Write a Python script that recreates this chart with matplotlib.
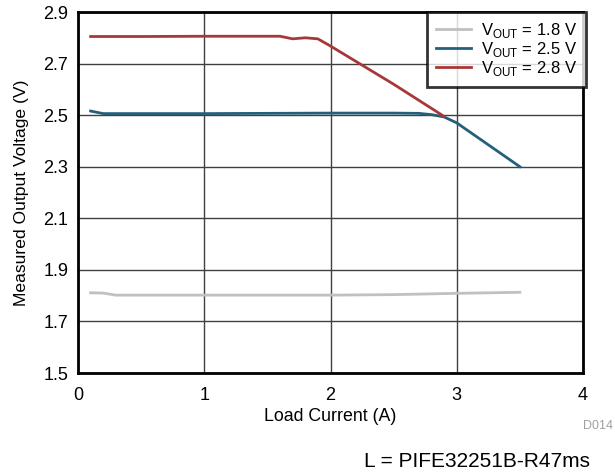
import matplotlib
matplotlib.use("Agg")
import matplotlib.pyplot as plt

plt.rcParams['font.family'] = ['Liberation Sans', 'DejaVu Sans']
plt.rcParams['mathtext.fontset'] = 'custom'
plt.rcParams['mathtext.rm'] = 'Liberation Sans'

# Load current (A) and measured output voltage (V)
i_18 = [0.1, 0.2, 0.3, 0.5, 1.0, 1.5, 2.0, 2.5, 3.0, 3.5]
v_18 = [1.811, 1.810, 1.802, 1.802, 1.802, 1.802, 1.802, 1.804, 1.809, 1.813]

i_25 = [0.1, 0.2, 0.5, 1.0, 1.5, 2.0, 2.5, 2.7, 2.8, 2.9, 3.0, 3.5]
v_25 = [2.516, 2.506, 2.506, 2.506, 2.507, 2.508, 2.508, 2.507, 2.502, 2.493, 2.47, 2.30]

i_28 = [0.1, 0.5, 1.0, 1.5, 1.6, 1.7, 1.8, 1.9, 2.0, 2.5, 2.9]
v_28 = [2.805, 2.805, 2.806, 2.806, 2.806, 2.796, 2.800, 2.796, 2.768, 2.62, 2.495]

labels = [r'V$_{\mathrm{OUT}}$ = 1.8 V', r'V$_{\mathrm{OUT}}$ = 2.5 V', r'V$_{\mathrm{OUT}}$ = 2.8 V']
colors = ['#c0c0c0', '#24607c', '#a83838']

fig = plt.figure(figsize=(6.15, 4.73), dpi=100)
ax = fig.add_axes([0.1268, 0.2114, 0.8212, 0.7632])

ax.plot(i_18, v_18, color=colors[0], lw=2, label=labels[0])
ax.plot(i_25, v_25, color=colors[1], lw=2, label=labels[1])
ax.plot(i_28, v_28, color=colors[2], lw=2, label=labels[2])

ax.set_xlim(0, 4)
ax.set_ylim(1.5, 2.9)
ax.set_xticks([0, 1, 2, 3, 4])
ax.set_yticks([1.5, 1.7, 1.9, 2.1, 2.3, 2.5, 2.7, 2.9])
ax.set_yticklabels(['1.5', '1.7', '1.9', '2.1', '2.3', '2.5', '2.7', '2.9'])
ax.grid(True, color='#404040', lw=1)
ax.set_axisbelow(True)
ax.tick_params(length=0, labelsize=13)
ax.tick_params(axis='x', pad=10)
ax.tick_params(axis='y', pad=7)
for s in ax.spines.values():
    s.set_linewidth(2)

ax.set_xlabel('Load Current (A)', fontsize=12.8, labelpad=3)
ax.set_ylabel('Measured Output Voltage (V)', fontsize=12.6, labelpad=10)

leg = ax.legend(loc='upper right', bbox_to_anchor=(1.006, 1.0), fontsize=12,
                frameon=True, fancybox=False, handlelength=2.1, borderpad=0.55,
                labelspacing=0.0, handletextpad=0.6, borderaxespad=0.0)
leg.get_frame().set_edgecolor('black')
leg.get_frame().set_linewidth(2)

fig.text(0.997, 0.10, 'D014', ha='right', va='center', fontsize=9, color='#a0a0a0')
fig.text(0.96, 0.025, 'L = PIFE32251B-R47ms', ha='right', va='center', fontsize=15)

fig.savefig('out.png', dpi=100)
